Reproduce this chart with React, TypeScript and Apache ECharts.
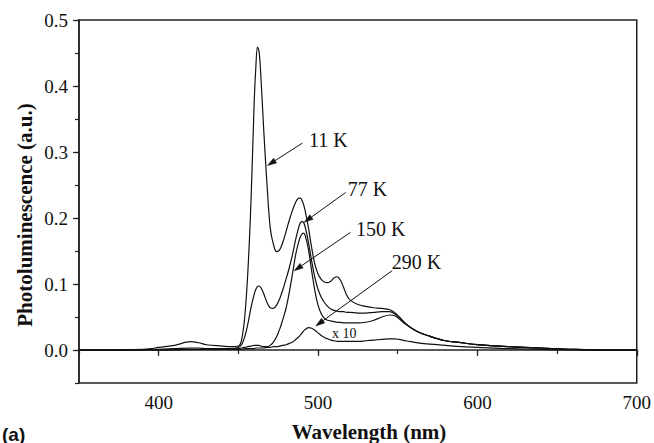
import React, { useEffect, useRef } from "react";
import * as echarts from "echarts";

// Emission wavelength grid (nm) shared by all spectra
const wavelengths = [
  350, 370, 390, 395, 400, 410, 420, 425, 430, 440,
  445, 450, 452, 454, 456, 458, 460, 461, 462, 463,
  464, 466, 468, 470, 472, 474, 476, 478, 480, 482,
  484, 486, 488, 489, 490, 491, 492, 494, 496, 498,
  500, 502, 504, 506, 508, 510, 512, 514, 516, 518,
  520, 525, 530, 535, 540, 545, 548, 551, 555, 560,
  565, 570, 575, 580, 590, 600, 620, 640, 660, 680,
  700,
];

// Photoluminescence intensity (a.u.) at each temperature
const pl11K = [
  0, 0, 0.001, 0.002, 0.004, 0.007, 0.0126, 0.011, 0.008, 0.006,
  0.005, 0.006, 0.015, 0.05, 0.12, 0.23, 0.38, 0.43, 0.459, 0.452,
  0.42, 0.33, 0.25, 0.185, 0.16, 0.149, 0.152, 0.164, 0.18, 0.197,
  0.212, 0.224, 0.23, 0.23, 0.226, 0.22, 0.21, 0.185, 0.155, 0.13,
  0.115, 0.107, 0.103, 0.102, 0.104, 0.109, 0.111, 0.106, 0.095, 0.083,
  0.076, 0.069, 0.066, 0.064, 0.063, 0.061, 0.057, 0.05, 0.04, 0.031,
  0.025, 0.021, 0.017, 0.014, 0.011, 0.008, 0.005, 0.003, 0.001, 0,
  0,
];

const pl77K = [
  0, 0, 0, 0.001, 0.001, 0.002, 0.003, 0.003, 0.002, 0.002,
  0.002, 0.004, 0.008, 0.02, 0.04, 0.065, 0.085, 0.092, 0.096, 0.097,
  0.095, 0.085, 0.072, 0.064, 0.063, 0.068, 0.078, 0.092, 0.108, 0.125,
  0.145, 0.168, 0.187, 0.193, 0.195, 0.193, 0.186, 0.163, 0.135, 0.11,
  0.092, 0.08, 0.072, 0.066, 0.062, 0.06, 0.059, 0.058, 0.058, 0.057,
  0.057, 0.056, 0.056, 0.057, 0.058, 0.058, 0.055, 0.049, 0.04, 0.031,
  0.025, 0.021, 0.017, 0.014, 0.011, 0.008, 0.005, 0.003, 0.001, 0,
  0,
];

const pl150K = [
  0, 0, 0, 0, 0, 0.001, 0.001, 0.001, 0.001, 0.001,
  0.001, 0.002, 0.003, 0.004, 0.005, 0.006, 0.007, 0.007, 0.007, 0.007,
  0.006, 0.005, 0.005, 0.007, 0.012, 0.02, 0.032, 0.047, 0.064, 0.088,
  0.116, 0.145, 0.165, 0.172, 0.176, 0.177, 0.173, 0.152, 0.12, 0.09,
  0.068, 0.055, 0.048, 0.045, 0.044, 0.043, 0.042, 0.042, 0.041, 0.041,
  0.041, 0.041, 0.042, 0.045, 0.05, 0.053, 0.052, 0.047, 0.039, 0.031,
  0.025, 0.021, 0.017, 0.014, 0.011, 0.008, 0.005, 0.003, 0.001, 0,
  0,
];

// 290 K spectrum, already multiplied by 10
const pl290Kx10 = [
  0, 0, 0, 0, 0, 0, 0.001, 0.001, 0.001, 0.001,
  0.001, 0.001, 0.001, 0.002, 0.002, 0.002, 0.002, 0.003, 0.003, 0.003,
  0.003, 0.003, 0.004, 0.004, 0.005, 0.005, 0.006, 0.007, 0.008, 0.01,
  0.012, 0.016, 0.02, 0.023, 0.026, 0.029, 0.031, 0.034, 0.033, 0.03,
  0.026, 0.022, 0.019, 0.017, 0.015, 0.014, 0.013, 0.013, 0.013, 0.013,
  0.013, 0.013, 0.014, 0.015, 0.016, 0.017, 0.017, 0.016, 0.014, 0.012,
  0.01, 0.009, 0.008, 0.007, 0.005, 0.004, 0.002, 0.001, 0, 0,
  0,
];

// Axis ticks
const xMajorTicks = [400, 500, 600, 700];
const yMajorTicks = [0, 0.1, 0.2, 0.3, 0.4, 0.5];

// Callouts: label text, label anchor and arrow (start -> tip), in data units
const callouts = [
  { text: "11 K", label: [494.4, 0.3184], from: [490.2, 0.3135], to: [468.3, 0.2796] },
  { text: "77 K", label: [518.6, 0.2432], from: [517.3, 0.2386], to: [491.3, 0.1935] },
  { text: "150 K", label: [523.9, 0.1839], from: [520.4, 0.1783], to: [485.0, 0.12] },
  { text: "290 K", label: [546.3, 0.1337], from: [546.4, 0.12], to: [498.6, 0.0365] },
];
const scaleNote = { text: "x 10", label: [508.8, 0.0243] };

const SERIF = "'Liberation Serif', 'Times New Roman', serif";
const INK = "#111";

export default function App() {
  const ref = useRef<HTMLDivElement>(null);

  useEffect(() => {
    if (!ref.current) return;
    const chart = echarts.init(ref.current, undefined, { renderer: "svg" });

    const toPairs = (vals: number[]) => wavelengths.map((w, i) => [w, vals[i]]);
    const curve = (name: string, vals: number[]) => ({
      name,
      type: "line",
      data: toPairs(vals),
      xAxisIndex: 0,
      yAxisIndex: 0,
      showSymbol: false,
      smooth: 0.35,
      lineStyle: { color: INK, width: 1.2 },
      silent: true,
    });

    chart.setOption({
      animation: false,
      grid: {
        left: 79,
        right: 15,
        top: 20,
        bottom: 60,
        show: true,
        borderColor: "#222",
        borderWidth: 1.5,
      },
      xAxis: [
        {
          type: "value",
          position: "bottom",
          min: 350,
          max: 700,
          interval: 50,
          axisLine: { show: true, lineStyle: { color: "#222", width: 1.5 } },
          axisTick: { show: true, customValues: xMajorTicks, length: 6, lineStyle: { color: "#222", width: 1.2 } },
          axisLabel: {
            customValues: xMajorTicks,
            margin: 10,
            color: INK,
            fontFamily: SERIF,
            fontSize: 19,
          },
          splitLine: { show: false },
        },
        {
          type: "value",
          position: "bottom",
          min: 350,
          max: 700,
          interval: 50,
          axisLine: { show: false },
          axisTick: { show: true, length: 4, lineStyle: { color: "#222", width: 1.2 } },
          axisLabel: { show: false },
          splitLine: { show: false },
        },
      ],
      yAxis: [
        {
          type: "value",
          position: "left",
          min: -0.05,
          max: 0.5,
          interval: 0.05,
          axisLine: { show: true, lineStyle: { color: "#222", width: 1.5 } },
          axisTick: { show: true, customValues: yMajorTicks, length: 6, lineStyle: { color: "#222", width: 1.2 } },
          axisLabel: {
            customValues: yMajorTicks,
            margin: 11,
            color: INK,
            fontFamily: SERIF,
            fontSize: 19,
            formatter: (v: number) => v.toFixed(1),
          },
          splitLine: { show: false },
        },
        {
          type: "value",
          position: "left",
          min: -0.05,
          max: 0.5,
          interval: 0.05,
          axisLine: { show: false },
          axisTick: { show: true, length: 4, lineStyle: { color: "#222", width: 1.2 } },
          axisLabel: { show: false },
          splitLine: { show: false },
        },
      ],
      series: [
        curve("11 K", pl11K),
        curve("77 K", pl77K),
        curve("150 K", pl150K),
        curve("290 K (x10)", pl290Kx10),
      ],
    });

    // Callout labels and arrows placed through the chart's own coordinate system
    const px = (p: number[]) => chart.convertToPixel({ gridIndex: 0 }, p) as number[];
    const elements: any[] = [];
    callouts.forEach((c) => {
      const l = px(c.label);
      const a = px(c.from);
      const b = px(c.to);
      const dx = b[0] - a[0];
      const dy = b[1] - a[1];
      const len = Math.hypot(dx, dy);
      const ux = dx / len;
      const uy = dy / len;
      const headLen = 9;
      const headHalf = 2.8;
      const bx = b[0] - ux * headLen;
      const by = b[1] - uy * headLen;
      elements.push({
        type: "line",
        shape: { x1: a[0], y1: a[1], x2: bx, y2: by },
        style: { stroke: INK, lineWidth: 1 },
        silent: true,
      });
      elements.push({
        type: "polygon",
        shape: {
          points: [
            [b[0], b[1]],
            [bx - uy * headHalf, by + ux * headHalf],
            [bx + uy * headHalf, by - ux * headHalf],
          ],
        },
        style: { fill: INK, stroke: INK, lineWidth: 0.5 },
        silent: true,
      });
      elements.push({
        type: "text",
        x: l[0],
        y: l[1],
        style: {
          text: c.text,
          fill: INK,
          font: `20px ${SERIF}`,
          textAlign: "left",
          textVerticalAlign: "middle",
        },
        silent: true,
      });
    });
    const n = px(scaleNote.label);
    elements.push({
      type: "text",
      x: n[0],
      y: n[1],
      style: {
        text: scaleNote.text,
        fill: INK,
        font: `14px ${SERIF}`,
        textAlign: "left",
        textVerticalAlign: "middle",
      },
      silent: true,
    });

    // Axis titles and panel tag
    elements.push({
      type: "text",
      x: 25,
      y: 215,
      rotation: Math.PI / 2,
      style: {
        text: "Photoluminescence (a.u.)",
        fill: INK,
        font: `bold 21px ${SERIF}`,
        textAlign: "center",
        textVerticalAlign: "middle",
      },
      silent: true,
    });
    elements.push({
      type: "text",
      x: 369,
      y: 432,
      style: {
        text: "Wavelength (nm)",
        fill: INK,
        font: `bold 21px ${SERIF}`,
        textAlign: "center",
        textVerticalAlign: "middle",
      },
      silent: true,
    });
    elements.push({
      type: "text",
      x: 2,
      y: 434,
      style: {
        text: "(a)",
        fill: INK,
        font: `bold 19px 'Liberation Sans', Arial, sans-serif`,
        textAlign: "left",
        textVerticalAlign: "middle",
      },
      silent: true,
    });

    chart.setOption({ graphic: { elements } });

    return () => chart.dispose();
  }, []);

  return (
    <div
      ref={ref}
      style={{ position: "fixed", left: 0, top: 0, width: 654, height: 443, background: "#fff" }}
    />
  );
}
